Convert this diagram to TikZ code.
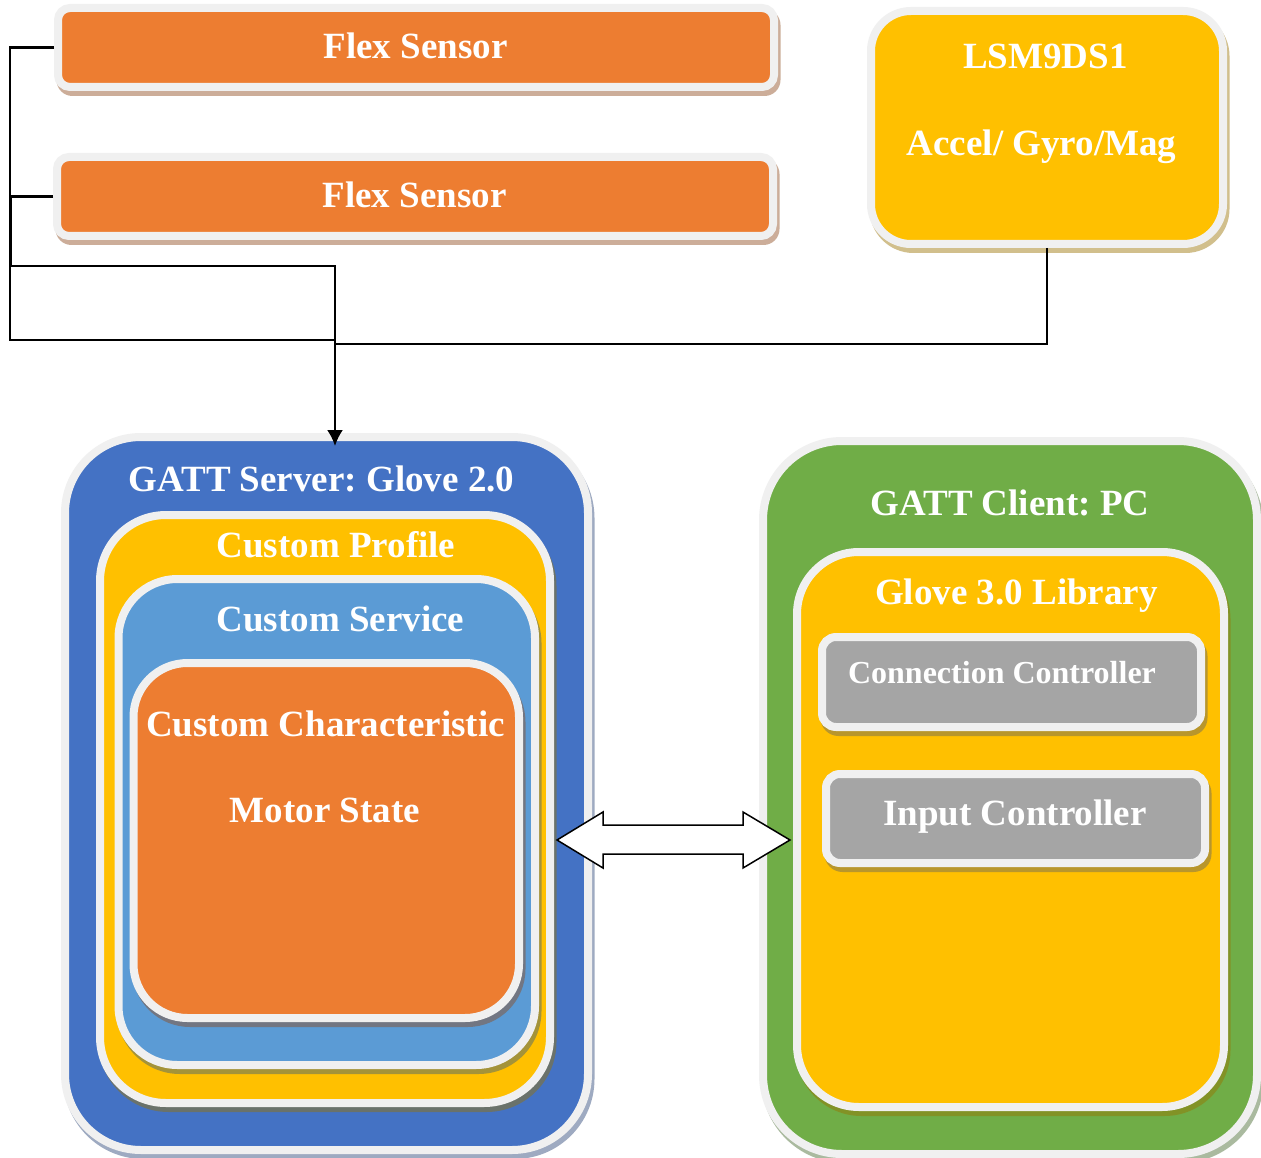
\documentclass[tikz,border=0pt]{standalone}
\usepackage{fontspec}
\setmainfont{Liberation Serif}
\usetikzlibrary{arrows.meta}
\frenchspacing

\definecolor{cOrange}{HTML}{ED7D31}
\definecolor{cYellow}{HTML}{FFC000}
\definecolor{cBlue}{HTML}{4472C4}
\definecolor{cSky}{HTML}{5B9BD5}
\definecolor{cGreen}{HTML}{70AD47}
\definecolor{cGray}{HTML}{A5A5A5}
\definecolor{cRim}{HTML}{F0F0F0}

% Rounded box with a light rim and a soft drop shadow.
% #1 name, #2 fill colour, #3 left, #4 top, #5 right, #6 bottom (inner fill edges), #7 fill corner radius
\newcommand\rimbox[7]{%
  \fill[#2!60!black, opacity=.45, rounded corners={#7+8}]
    ({#3-8+2.5},{#4-8+5}) rectangle ({#5+8+2.5},{#6+8+5});
  \node[rimshape, fill=#2, rounded corners={#7+4},
        minimum width={#5-#3+8}, minimum height={#6-#4+8}]
    (#1) at ({(#3+#5)/2},{(#4+#6)/2}) {};
}

\tikzset{
  rimshape/.style={rectangle, draw=cRim, line width=8pt, inner sep=0pt},
  lbl/.style={anchor=base, inner sep=0pt, text=white,
              font=\fontsize{37}{44}\selectfont\bfseries},
  lblsmall/.style={lbl, font=\fontsize{32}{38}\selectfont\bfseries},
  wire/.style={draw=black, line width=2.2pt},
}

\begin{document}
\begin{tikzpicture}[x=1pt, y=-1pt]
  \fill[white] (0,0) rectangle (1261,1158);
  \useasboundingbox (0,0) rectangle (1261,1158);

  % sensors
  \rimbox{flexA}{cOrange}{62}{12}{770}{83}{8}
  \rimbox{flexB}{cOrange}{61}{161}{769}{232}{8}
  \rimbox{imu}{cYellow}{875}{15}{1219}{240}{36}

  \node[lbl] (flexAtxt) at (415.5,59) {Flex Sensor};
  \node[lbl] (flexBtxt) at (414.5,208) {Flex Sensor};
  \node[lbl] (imutxt) at (1045.5,69) {LSM9DS1};
  \node[lbl] (imusub) at (1041.5,156) {Accel/ Gyro/Mag};

  % GATT server stack
  \rimbox{srv}{cBlue}{69}{441}{584}{1146}{72}
  \rimbox{prof}{cYellow}{104}{519}{546}{1099}{62}
  \rimbox{svc}{cSky}{122.5}{583}{531}{1061}{55}
  \rimbox{chr}{cOrange}{137.5}{667}{515}{1014}{50}

  \node[lbl] (srvtxt) at (321.5,491) {GATT Server: Glove 2.0};
  \node[lbl] (proftxt) at (336,557) {Custom Profile};
  \node[lbl] (svctxt) at (340.5,631) {Custom Service};
  \node[lbl] (chrtxt) at (325.5,736) {Custom Characteristic};
  \node[lbl] (chrsub) at (325,822) {Motor State};

  % GATT client stack
  \rimbox{cli}{cGreen}{767}{445}{1253}{1150}{75}
  \rimbox{lib}{cYellow}{801}{556}{1220}{1103}{58}
  \rimbox{conn}{cGray}{826}{641}{1197}{723}{10}
  \rimbox{inp}{cGray}{830}{778}{1201}{859}{10}

  \node[lbl] (clitxt) at (1010,515) {GATT Client: PC};
  \node[lbl] (libtxt) at (1016.5,604) {Glove 3.0 Library};
  \node[lblsmall] (conntxt) at (1002,683) {Connection Controller};
  \node[lbl] (inptxt) at (1015,825) {Input Controller};

  % sensor wiring into the server
  \coordinate (tap) at (335,266);
  \coordinate (busA) at (335,340);
  \coordinate (busB) at (335,344);
  \draw[wire] (flexA.west) -- ++(-44,0) |- (busA);
  \draw[wire, -{Latex[length=16pt,width=16pt]}]
    (flexB.west) -- ++(-42,0) |- (tap) -- ([yshift=-13pt]srv.north -| tap);
  \draw[wire] (imu.south) |- (busB);

  % bidirectional link between server and client
  \draw[line width=1.5pt, fill=white, line join=miter]
    (557,840) -- (603,812) -- (603,825) -- (743,825) -- (743,812) -- (790,840)
    -- (743,868) -- (743,854) -- (603,854) -- (603,868) -- cycle;
\end{tikzpicture}
\end{document}
